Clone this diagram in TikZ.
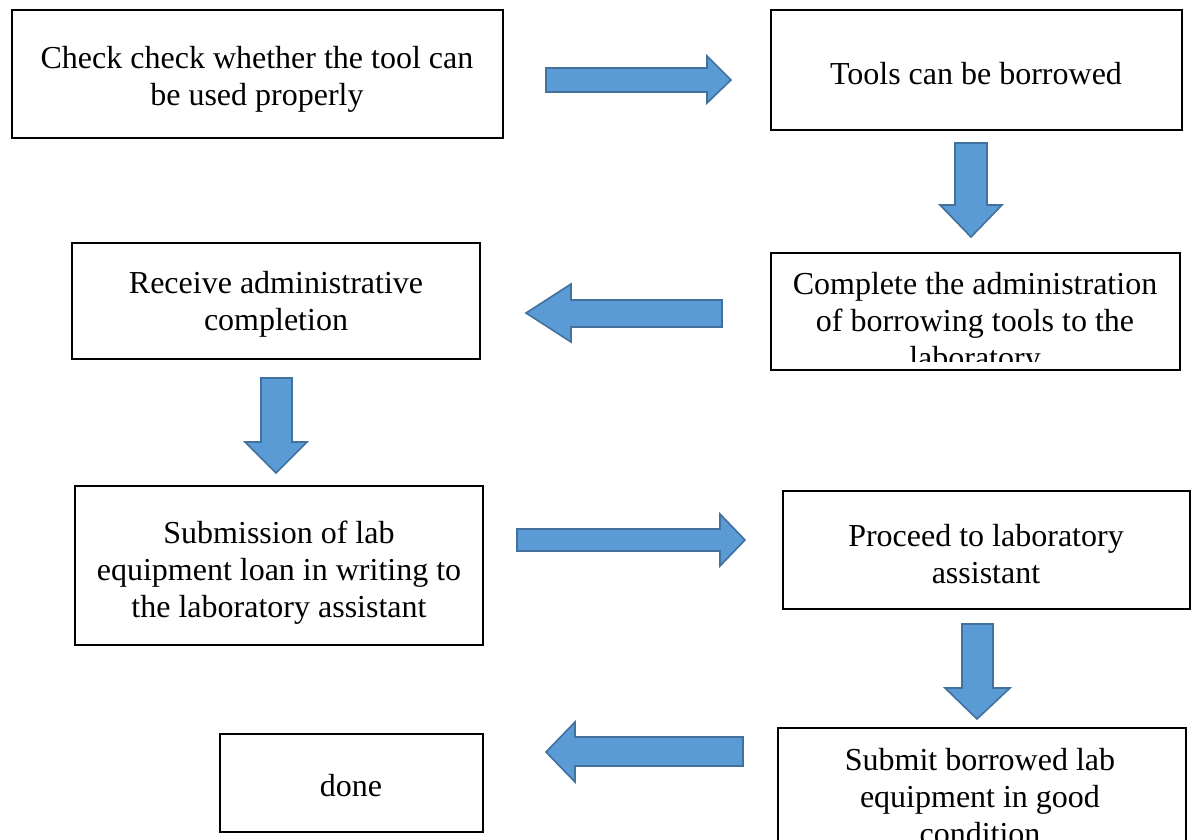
\documentclass[tikz,border=0pt]{standalone}
\usepackage{fontspec}
\setmainfont{Liberation Serif}
\definecolor{arrfill}{RGB}{91,155,213}
\definecolor{arrdraw}{RGB}{65,113,156}
\begin{document}
\begin{tikzpicture}[x=1pt,y=-1pt,
  box/.style={draw=black,line width=2.4pt},
  txt/.style={align=center,font=\fontsize{32}{37}\selectfont,inner sep=0pt},
  blk/.style={fill=arrfill,draw=arrdraw,line width=1.6pt,line join=miter}]
\useasboundingbox (0,0) rectangle (1192,840);
% boxes
\draw[box] (12,10) rectangle (503,138);
\node[txt] (t1) at (257,79) {Check check whether the tool can\\be used properly};
\draw[box] (771,10) rectangle (1182,130);
\node[txt] (t2) at (976,74) {Tools can be borrowed};
\draw[box] (771,253) rectangle (1180,370);
\begin{scope}
\clip (773,255) rectangle (1178,361);
\node[txt] (t3) at (975,324) {Complete the administration\\of borrowing tools to the\\laboratory};
\end{scope}
\draw[box] (72,243) rectangle (480,359);
\node[txt] (t4) at (276,304) {Receive administrative\\completion};
\draw[box] (75,486) rectangle (483,645);
\node[txt] (t5) at (279,573) {Submission of lab\\equipment loan in writing to\\the laboratory assistant};
\draw[box] (783,491) rectangle (1190,609);
\node[txt] (t6) at (986,554) {Proceed to laboratory\\assistant};
\draw[box] (220,734) rectangle (483,832);
\node[txt] (t7) at (351,786) {done};
\draw[box] (778,845) -- (778,728) -- (1186,728) -- (1186,845);
\begin{scope}
\clip (780,730) rectangle (1184,839);
\node[txt] (t8) at (980,797) {Submit borrowed lab\\equipment in good\\condition};
\end{scope}
% block arrows
\draw[blk] (546,68) -- (707,68) -- (707,56) -- (731,80) -- (707,103) -- (707,92) -- (546,92) -- cycle;
\draw[blk] (955,143) -- (987,143) -- (987,205) -- (1002,205) -- (971,237) -- (940,205) -- (955,205) -- cycle;
\draw[blk] (722,300) -- (571,300) -- (571,284) -- (526,313) -- (571,342) -- (571,327) -- (722,327) -- cycle;
\draw[blk] (261,378) -- (292,378) -- (292,442) -- (307,442) -- (276,473) -- (245,442) -- (261,442) -- cycle;
\draw[blk] (517,529) -- (720,529) -- (720,514) -- (745,540) -- (720,566) -- (720,551) -- (517,551) -- cycle;
\draw[blk] (962,624) -- (993,624) -- (993,688) -- (1010,688) -- (977,719) -- (945,688) -- (962,688) -- cycle;
\draw[blk] (743,737) -- (575,737) -- (575,722) -- (546,752) -- (575,782) -- (575,766) -- (743,766) -- cycle;
\end{tikzpicture}
\end{document}
